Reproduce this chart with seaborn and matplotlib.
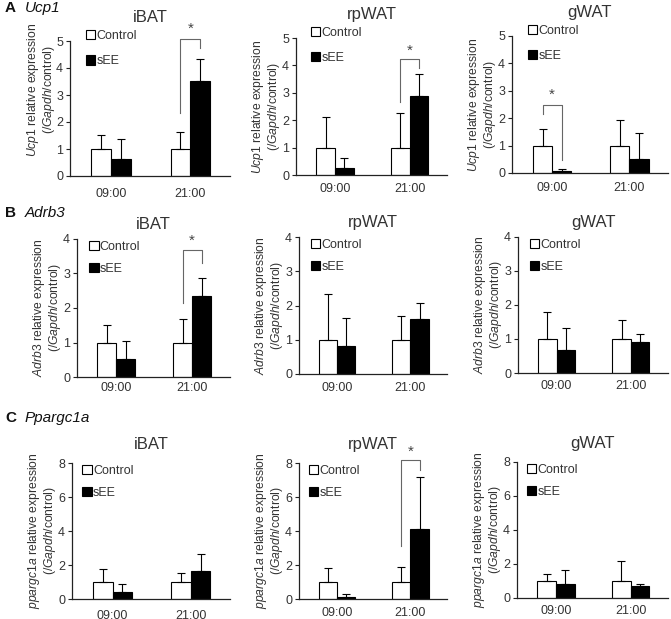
import numpy as np
import pandas as pd
import matplotlib
matplotlib.use("Agg")
import matplotlib.pyplot as plt
import seaborn as sns
from matplotlib.patches import Patch

# ---- data ----
times = ["09:00", "21:00"]
groups = ["Control", "sEE"]
tissues = ["iBAT", "rpWAT", "gWAT"]
genes = ["Ucp1", "Adrb3", "Ppargc1a"]
ylab_genes = ["Ucp1", "Adrb3", "ppargc1a"]
letters = ["A", "B", "C"]
ymax = [5, 4, 8]
ystep = [1, 1, 2]

ctrl_mean = [1.0, 1.0]

# sEE means, [09:00, 21:00], per tissue
ucp1_see = [[0.62, 3.52], [0.27, 2.87], [0.07, 0.52]]
adrb3_see = [[0.52, 2.35], [0.83, 1.62], [0.67, 0.90]]
ppargc1a_see = [[0.42, 1.62], [0.12, 4.14], [0.83, 0.68]]

# upper SD, control
ucp1_ctrl_sd = [[0.53, 0.63], [1.12, 1.27], [0.60, 0.93]]
adrb3_ctrl_sd = [[0.50, 0.68], [1.35, 0.68], [0.80, 0.57]]
ppargc1a_ctrl_sd = [[0.75, 0.53], [0.80, 0.87], [0.39, 1.20]]

# upper SD, sEE
ucp1_see_sd = [[0.76, 0.83], [0.36, 0.80], [0.08, 0.93]]
adrb3_see_sd = [[0.53, 0.52], [0.80, 0.45], [0.65, 0.25]]
ppargc1a_see_sd = [[0.48, 1.02], [0.17, 3.05], [0.84, 0.14]]

see_means = [ucp1_see, adrb3_see, ppargc1a_see]
ctrl_sds = [ucp1_ctrl_sd, adrb3_ctrl_sd, ppargc1a_ctrl_sd]
see_sds = [ucp1_see_sd, adrb3_see_sd, ppargc1a_see_sd]

# significance brackets: (gene, tissue) -> (time idx, top, left end, right end, star y)
brackets = {
    (0, 0): (1, 5.07, 2.32, 4.73, 5.45),
    (0, 1): (1, 4.24, 2.68, 3.90, 4.55),
    (0, 2): (0, 2.48, 2.17, 0.49, 2.84),
    (1, 0): (1, 3.69, 2.14, 3.30, 3.95),
    (2, 1): (1, 8.15, 3.13, 7.60, 8.65),
}

# ---- layout (pixels): left, right, top, bottom of each axes ----
W, H = 671, 619
boxes = [
    [(70, 230, 41, 176), (296, 447, 38, 175), (512, 668, 36, 173)],
    [(77, 230, 239, 377), (299, 447, 237, 374), (518, 668, 237, 373)],
    [(72, 230, 463, 599), (299, 447, 463, 599), (517, 668, 462, 598)],
]
xpads = [[8.4, 5.6, 6.3], [3.4, 5.6, 4.8], [7.7, 5.6, 4.8]]
ylpads = [[-1, 0, 0], [0, 0, 0], [0, 0, 0]]
yl_y = [[0.64, 0.5, 0.5], [0.5, 0.5, 0.5], [0.5, 0.5, 0.5]]
title_pad = [14, 7, 10]
leg_anchor = [(0.10, 1.08), (0.08, 0.985), (0.065, 0.985)]
leg_spacing = [1.05, 0.8, 0.8]
letter_y = [8, 213, 418]

plt.rcParams["font.family"] = ["Liberation Sans", "DejaVu Sans"]
plt.rcParams["mathtext.fontset"] = "custom"
plt.rcParams["mathtext.rm"] = "Liberation Sans"
plt.rcParams["mathtext.it"] = "Liberation Sans:italic"

fig = plt.figure(figsize=(W / 100, H / 100), dpi=100)
txt_col = "#333333"

for g in range(3):
    fig.text(5 / W, 1 - letter_y[g] / H, letters[g], fontsize=11, fontweight="bold",
             va="center", ha="left", color="#111111")
    fig.text(25 / W, 1 - letter_y[g] / H, genes[g], fontsize=11, style="italic",
             va="center", ha="left", color="#111111")
    for t in range(3):
        l, r, top, bot = boxes[g][t]
        ax = fig.add_axes([l / W, 1 - bot / H, (r - l) / W, (bot - top) / H])
        df = pd.DataFrame({
            "time": times * 2,
            "group": ["Control"] * 2 + ["sEE"] * 2,
            "value": ctrl_mean + see_means[g][t],
        })
        sns.barplot(data=df, x="time", y="value", hue="group", order=times,
                    hue_order=groups, palette={"Control": "white", "sEE": "black"},
                    edgecolor="black", linewidth=0.8, width=0.5, errorbar=None,
                    legend=False, ax=ax)
        xs = np.arange(2)
        ax.errorbar(xs - 0.125, ctrl_mean, yerr=[np.zeros(2), ctrl_sds[g][t]],
                    fmt="none", ecolor="black", elinewidth=0.8, capsize=3, capthick=0.8)
        ax.errorbar(xs + 0.125, see_means[g][t], yerr=[np.zeros(2), see_sds[g][t]],
                    fmt="none", ecolor="black", elinewidth=0.8, capsize=3, capthick=0.8)

        if (g, t) in brackets:
            i, yt, yl, yr, ys = brackets[(g, t)]
            ax.plot([i - 0.125, i - 0.125, i + 0.125, i + 0.125], [yl, yt, yt, yr],
                    color="#666666", lw=0.8, clip_on=False)
            ax.text(i, ys, "*", ha="center", va="center", fontsize=11, color="#444444")

        ax.set_xlim(-0.52, 1.5)
        ax.set_ylim(0, ymax[g])
        ax.set_yticks(np.arange(0, ymax[g] + 0.1, ystep[g]))
        ax.set_xlabel("")
        ax.set_ylabel("$\\it{" + ylab_genes[g] + "}$ relative expression\n(/$\\it{Gapdh}$/control)",
                      fontsize=8.7, color=txt_col, labelpad=ylpads[g][t], linespacing=1.05)
        ax.yaxis.label.set_y(yl_y[g][t])
        ax.set_title(tissues[t], fontsize=12, color=txt_col, pad=title_pad[g])
        for s in ["top", "right"]:
            ax.spines[s].set_visible(False)
        for s in ["left", "bottom"]:
            ax.spines[s].set_color("#222222")
            ax.spines[s].set_linewidth(0.9)
        ax.tick_params(axis="x", length=0, pad=xpads[g][t], labelsize=9, labelcolor=txt_col)
        ax.tick_params(axis="y", length=3, width=0.8, pad=2, labelsize=9,
                       labelcolor=txt_col, color="#222222")
        ax.set_facecolor("none")

        handles = [Patch(facecolor="white", edgecolor="black", linewidth=0.8),
                   Patch(facecolor="black", edgecolor="black", linewidth=0.8)]
        ax.legend(handles, groups, loc="upper left", bbox_to_anchor=leg_anchor[g],
                  frameon=False, handlelength=0.75, handleheight=0.75,
                  handletextpad=0.1, labelspacing=leg_spacing[g], fontsize=9,
                  borderaxespad=0, borderpad=0, labelcolor=txt_col)

fig.savefig("out.png", dpi=100)
